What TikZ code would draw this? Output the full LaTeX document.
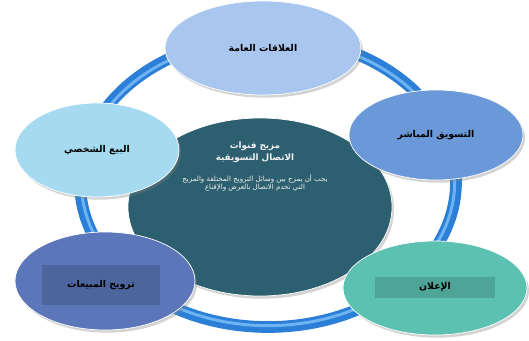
\documentclass[tikz,border=0pt]{standalone}
\usepackage{fontspec}
\newfontfamily\arabicfont[Script=Arabic]{DejaVu Sans}
\TeXXeTstate=1
\usepackage{xcolor}
\usetikzlibrary{shapes.geometric, shadows, positioning, calc}

\definecolor{ringblue}{HTML}{2B7FD6}
\definecolor{ringlight}{HTML}{6FB4F2}
\definecolor{topfill}{HTML}{A9C6EE}
\definecolor{rightfill}{HTML}{6B98D8}
\definecolor{leftfill}{HTML}{A6DAF0}
\definecolor{blfill}{HTML}{5B77B9}
\definecolor{brfill}{HTML}{5CC1B1}
\definecolor{centfill}{HTML}{2C5F6F}

\tikzset{
  oval/.style={ellipse, draw=white, line width=0.6pt, drop shadow={opacity=0.35,shadow xshift=0.06cm,shadow yshift=-0.08cm}},
  lbl/.style={font=\arabicfont\bfseries\fontsize{8}{10}\selectfont, text=black}
}

\begin{document}
\begin{tikzpicture}[x=0.03cm,y=-0.03cm]
      \useasboundingbox (0,0) rectangle (529,341);

      % ring
      \coordinate (ringc) at (268,182);
      \draw[ringblue, line width=10pt] (ringc) ellipse [x radius=5.64cm, y radius=4.35cm];
      \draw[ringlight, line width=2.5pt] (ringc) ellipse [x radius=5.60cm, y radius=4.31cm];

      % centre
      \node[oval, fill=centfill, minimum width=7.92cm, minimum height=5.34cm] (mix) at (260,207) {};
      \node[font=\arabicfont\bfseries\fontsize{7.5}{10}\selectfont, text=white!90!gray, align=center] (mixt) at (255,152)
        {\beginR مزيج قنوات\endR\\ \beginR الاتصال التسويقية\endR};
      \node[font=\arabicfont\fontsize{6}{7.5}\selectfont, text=white!90!gray, align=center, below=3pt of mixt] (mixd)
        {\beginR يجب أن يمزج بين وسائل الترويج المختلفة والمزيج\endR\\ \beginR التي تخدم الاتصال بالعرض والإقناع\endR};

      % outer ovals
      \node[oval, fill=topfill, minimum width=5.88cm, minimum height=2.82cm] (pr) at (263,48) {};
      \node[lbl] at (pr) {\beginR العلاقات العامة\endR};

      \node[oval, fill=rightfill, minimum width=5.22cm, minimum height=2.7cm] (dm) at (436,135) {};
      \node[lbl] at (dm) {\beginR التسويق المباشر\endR};

      \node[oval, fill=leftfill, minimum width=4.92cm, minimum height=2.82cm] (ps) at (97,150) {};
      \node[lbl] at (ps) {\beginR البيع الشخصي\endR};

      \node[oval, fill=blfill, minimum width=5.4cm, minimum height=2.94cm] (sp) at (105,281) {};
      \fill[blfill!85!black] (42,265) rectangle (160,305);
      \node[lbl] at (101,285) {\beginR ترويج المبيعات\endR};

      \node[oval, fill=brfill, minimum width=5.52cm, minimum height=2.82cm] (ad) at (435,288) {};
      \fill[brfill!85!black] (375,277) rectangle (495,298);
      \node[lbl] at (435,287) {\beginR الإعلان\endR};
    \end{tikzpicture}
\end{document}
